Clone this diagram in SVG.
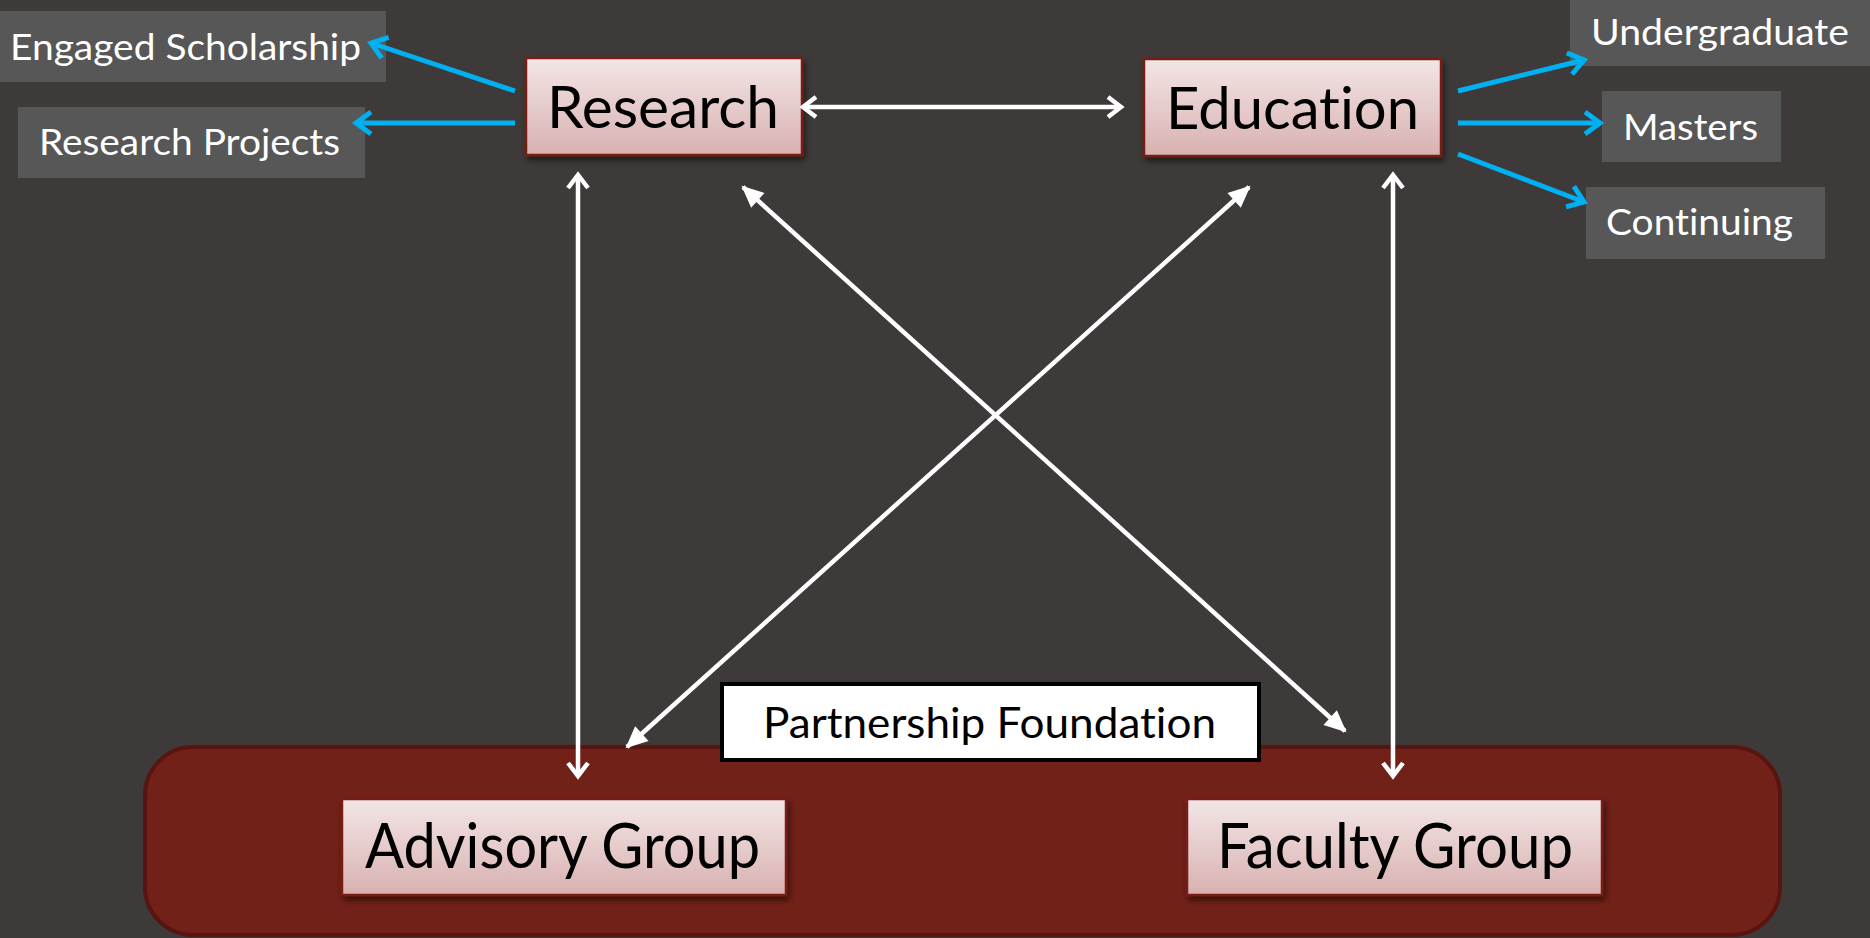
<svg xmlns="http://www.w3.org/2000/svg" width="1870" height="938" viewBox="0 0 1870 938">
<defs>
<linearGradient id="boxGrad" x1="0" y1="0" x2="0" y2="1">
<stop offset="0" stop-color="#F3E6E6"/>
<stop offset="1" stop-color="#D8B1B0"/>
</linearGradient>
<filter id="shadow" x="-10%" y="-20%" width="125%" height="150%">
<feDropShadow dx="2" dy="4" stdDeviation="3" flood-color="#000" flood-opacity="0.55"/>
</filter>
<marker id="openW" markerUnits="userSpaceOnUse" viewBox="-20 -15 25 30" markerWidth="25" markerHeight="30" refX="0" refY="0" orient="auto-start-reverse">
<path d="M-13,-10 L0,0 L-13,10" fill="none" stroke="#FFFFFF" stroke-width="4.5" stroke-linejoin="miter"/>
</marker>
<marker id="fillW" markerUnits="userSpaceOnUse" viewBox="-24 -15 28 30" markerWidth="28" markerHeight="30" refX="0" refY="0" orient="auto-start-reverse">
<path d="M-20,-10 L2,0 L-20,10 Z" fill="#FFFFFF"/>
</marker>
<marker id="openB" markerUnits="userSpaceOnUse" viewBox="-22 -16 27 32" markerWidth="27" markerHeight="32" refX="0" refY="0" orient="auto">
<path d="M-15,-11 L0,0 L-15,11" fill="none" stroke="#00B0F0" stroke-width="5" stroke-linejoin="miter"/>
</marker>
</defs>
<style>
.main { fill: url(#boxGrad); stroke: #7A1E16; stroke-width: 2.5; filter: url(#shadow); }
.gray { fill: #575757; }
.t { font-family: Lato, "Open Sans", "Liberation Sans", sans-serif; font-variant-ligatures: none; }
.big { font-size: 58px; fill: #000; }
.grp { font-size: 62px; fill: #000; }
.small { font-size: 37px; fill: #FFFFFF; }
.wline { stroke: #FFFFFF; stroke-width: 4.5; fill: none; }
.bline { stroke: #00B0F0; stroke-width: 5; fill: none; }
</style>
<rect x="0" y="0" width="1870" height="938" fill="#3E3A39"/>

<g id="foundation">
<rect x="145" y="747" width="1635" height="188" rx="48" ry="48" fill="#722118" stroke="#581510" stroke-width="4"/>
</g>

<g id="engaged-scholarship">
<rect class="gray" x="0" y="11" width="386" height="71"/>
<text class="t small" x="10" y="60" textLength="351" lengthAdjust="spacingAndGlyphs">Engaged Scholarship</text>
</g>
<g id="research-projects">
<rect class="gray" x="18" y="107" width="347" height="71"/>
<text class="t small" x="39" y="155" textLength="301" lengthAdjust="spacingAndGlyphs">Research Projects</text>
</g>
<g id="undergraduate">
<rect class="gray" x="1570" y="0" width="300" height="66"/>
<text class="t small" x="1591" y="45" textLength="258" lengthAdjust="spacingAndGlyphs">Undergraduate</text>
</g>
<g id="masters">
<rect class="gray" x="1602" y="91" width="179" height="71"/>
<text class="t small" x="1623" y="140" textLength="135" lengthAdjust="spacingAndGlyphs">Masters</text>
</g>
<g id="continuing">
<rect class="gray" x="1586" y="187" width="239" height="72"/>
<text class="t small" x="1606" y="235" textLength="187" lengthAdjust="spacingAndGlyphs">Continuing</text>
</g>

<g id="research">
<rect class="main" x="526" y="58" width="276" height="97"/>
<text class="t big" x="547" y="128" textLength="232" lengthAdjust="spacingAndGlyphs">Research</text>
</g>
<g id="education">
<rect class="main" x="1144" y="59" width="297" height="97"/>
<text class="t big" x="1166" y="129" textLength="253" lengthAdjust="spacingAndGlyphs">Education</text>
</g>
<g id="advisory-group">
<rect class="main" x="342" y="799" width="444" height="96" stroke="#8A2A22" stroke-width="1.5"/>
<text class="t grp" x="365" y="868" textLength="395" lengthAdjust="spacingAndGlyphs">Advisory Group</text>
</g>
<g id="faculty-group">
<rect class="main" x="1187" y="799" width="415" height="96" stroke="#8A2A22" stroke-width="1.5"/>
<text class="t grp" x="1217" y="868" textLength="356" lengthAdjust="spacingAndGlyphs">Faculty Group</text>
</g>
<g id="partnership-foundation">
<rect x="722" y="684" width="537" height="76" fill="#FFFFFF" stroke="#000000" stroke-width="4"/>
<text class="t" x="763" y="738" font-size="43" fill="#000" textLength="453" lengthAdjust="spacingAndGlyphs">Partnership Foundation</text>
</g>

<g id="connectors">
<line class="wline" x1="803" y1="107" x2="1121" y2="107" marker-start="url(#openW)" marker-end="url(#openW)"/>
<line class="wline" x1="578" y1="175" x2="578" y2="776" marker-start="url(#openW)" marker-end="url(#openW)"/>
<line class="wline" x1="1393" y1="175" x2="1393" y2="776" marker-start="url(#openW)" marker-end="url(#openW)"/>
<line class="wline" x1="743" y1="187" x2="1345" y2="731" marker-start="url(#fillW)" marker-end="url(#fillW)"/>
<line class="wline" x1="1249" y1="187" x2="627" y2="747" marker-start="url(#fillW)" marker-end="url(#fillW)"/>
<line class="bline" x1="515" y1="91" x2="371" y2="43" marker-end="url(#openB)"/>
<line class="bline" x1="515" y1="123" x2="356" y2="123" marker-end="url(#openB)"/>
<line class="bline" x1="1458" y1="91" x2="1584" y2="60" marker-end="url(#openB)"/>
<line class="bline" x1="1458" y1="123" x2="1600" y2="123" marker-end="url(#openB)"/>
<line class="bline" x1="1458" y1="154" x2="1584" y2="202" marker-end="url(#openB)"/>
</g>
</svg>
